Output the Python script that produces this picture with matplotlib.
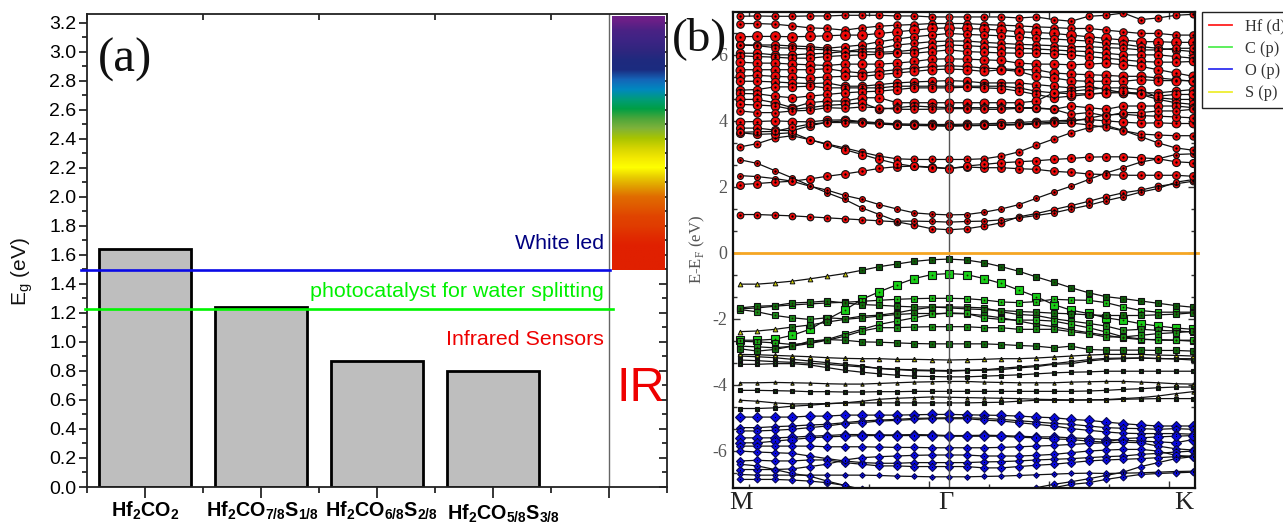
import matplotlib
matplotlib.use('Agg')
import matplotlib.pyplot as plt
from matplotlib.lines import Line2D
from matplotlib.transforms import ScaledTranslation
from matplotlib.colors import to_rgb
import numpy as np

plt.rcParams['font.family'] = ['Liberation Sans', 'DejaVu Sans']
plt.rcParams['mathtext.fontset'] = 'custom'
plt.rcParams['mathtext.rm'] = 'Liberation Serif'
plt.rcParams['mathtext.bf'] = 'Liberation Sans:bold'
plt.rcParams['mathtext.sf'] = 'Liberation Sans'

# ---------- panel (a) data ----------
compounds = [r'$\mathbf{Hf_{2}CO_{2}}$', r'$\mathbf{Hf_{2}CO_{7/8}S_{1/8}}$',
             r'$\mathbf{Hf_{2}CO_{6/8}S_{2/8}}$', r'$\mathbf{Hf_{2}CO_{5/8}S_{3/8}}$']
band_gaps = [1.64, 1.24, 0.87, 0.80]
white_led_level = 1.495
water_splitting_level = 1.23
spectrum_colors = ['#6b1f87', '#4a2284', '#3d2484', '#30267f', '#1f2a7e', '#1b2c80', '#1565b8',
                   '#0088c0', '#009c7c', '#009f45', '#4ca63a', '#7fb23a', '#a8c400', '#d4d400',
                   '#f2e800', '#ffff00', '#e8cc00', '#e09c00', '#e06c00', '#e05a00', '#e04400',
                   '#e03c00', '#e02c00', '#e02000', '#e02000', '#e02000']
spectrum_range = [1.495, 3.245]

# ---------- panel (b) data: energies (eV) at the 27 k-points from M (0) via Gamma (12) to K (26) ----------
k_labels = ['M', 'Γ', 'K']
hf_bands = [
 [1.16,1.16,1.14,1.12,1.09,1.06,1.03,1.0,.97,.94,.84,.73,.70,.73,.81,.91,1.09,1.19,1.31,1.43,1.56,1.70,1.82,1.90,2.02,2.09,2.17],
 [2.82,2.71,2.49,2.27,2.04,1.82,1.62,1.36,1.16,.96,.96,.95,.93,.95,.96,1.0,1.06,1.13,1.21,1.33,1.44,1.58,1.70,1.84,1.95,2.14,2.22],
 [2.34,2.31,2.25,2.17,2.02,1.90,1.74,1.62,1.46,1.33,1.21,1.17,1.15,1.16,1.23,1.33,1.46,1.65,1.84,2.02,2.22,2.42,2.58,2.75,2.85,2.98,3.0],
 [2.07,2.10,2.14,2.17,2.24,2.32,2.39,2.47,2.56,2.61,2.63,2.6,2.56,2.6,2.58,2.58,2.55,2.53,2.47,2.44,2.39,2.37,2.35,2.35,2.35,2.35,2.32],
 [3.21,3.31,3.48,3.55,3.43,3.30,3.18,3.05,2.93,2.85,2.83,2.83,2.83,2.83,2.85,2.93,3.06,3.26,3.45,3.64,3.79,3.86,3.71,3.52,3.33,3.18,3.11],
 [3.64,3.59,3.61,3.64,3.43,3.28,3.13,2.98,2.83,2.70,2.62,2.58,2.55,2.63,2.68,2.73,2.76,2.79,2.83,2.86,2.90,2.91,2.91,2.88,2.85,2.76,2.73],
 [3.97,3.98,4.00,3.98,3.97,4.02,4.03,3.98,3.94,3.91,3.90,3.89,3.89,3.90,3.91,3.93,3.95,3.98,4.00,4.02,4.04,4.00,3.96,3.93,3.94,3.92,3.92],
 [3.78,3.78,3.72,3.7,3.85,3.96,4.0,3.96,3.92,3.88,3.87,3.86,3.85,3.86,3.87,3.88,3.9,3.93,3.96,3.98,4.08,4.18,4.2,4.16,4.14,4.12,4.09],
 [3.65,3.67,3.68,3.8,3.9,3.95,3.95,3.93,3.9,3.88,3.86,3.85,3.84,3.85,3.86,3.87,3.88,3.9,3.92,3.93,3.88,3.8,3.7,3.6,3.57,3.55,3.55],
 [7.17,7.18,7.17,7.17,7.18,7.18,7.2,7.2,7.2,7.18,7.18,7.15,7.15,7.15,7.15,7.15,7.12,7.15,7.07,7.02,7.17,7.2,7.27,7.07,7.12,7.2,7.23],
 [6.95,6.95,6.93,6.88,6.82,6.8,6.75,6.82,6.87,6.9,6.92,6.95,6.95,6.95,6.92,6.9,6.88,6.85,6.83,6.8,6.8,6.75,6.7,6.65,6.65,6.6,6.6],
 [6.55,6.56,6.56,6.55,6.56,6.58,6.6,6.6,6.65,6.7,6.75,6.8,6.82,6.8,6.78,6.75,6.7,6.68,6.65,6.6,6.55,6.5,6.45,6.4,6.4,6.38,6.38],
 [6.3,6.3,6.3,6.27,6.25,6.2,6.25,6.3,6.4,6.48,6.55,6.6,6.65,6.62,6.6,6.58,6.55,6.5,6.48,6.45,6.42,6.35,6.32,6.25,6.2,6.15,6.1],
 [6.3,6.28,6.22,6.2,6.18,6.15,6.1,6.17,6.2,6.3,6.35,6.4,6.42,6.42,6.38,6.35,6.32,6.3,6.28,6.25,6.25,6.22,6.2,6.15,6.15,6.2,6.2],
 [6.05,6.05,6.0,6.0,6.03,6.05,6.1,6.1,6.08,6.1,6.15,6.25,6.3,6.28,6.25,6.22,6.2,6.18,6.15,6.12,6.1,6.05,6.0,6.0,6.0,5.95,5.9],
 [5.97,5.95,5.93,5.9,5.9,5.95,5.98,6.0,6.02,6.05,6.05,6.1,6.15,6.1,6.08,6.06,6.05,6.05,6.03,6.0,5.95,5.9,5.85,5.8,5.78,5.78,5.8],
 [5.78,5.75,5.75,5.72,5.7,5.68,5.72,5.72,5.72,5.75,5.8,5.87,5.88,5.87,5.85,5.83,5.75,5.72,5.72,5.7,5.72,5.75,5.7,5.65,5.55,5.45,5.35],
 [5.55,5.55,5.55,5.55,5.55,5.58,5.5,5.45,5.5,5.55,5.6,5.65,5.67,5.65,5.6,5.58,5.55,5.55,5.45,5.42,5.4,5.38,5.35,5.35,5.3,5.25,5.2],
 [5.35,5.38,5.35,5.33,5.3,5.33,5.35,5.35,5.4,5.45,5.5,5.55,5.57,5.55,5.5,5.55,5.5,5.35,5.3,5.22,5.2,5.2,5.2,5.25,5.22,5.22,5.22],
 [5.2,5.2,5.18,5.15,5.13,5.15,5.05,5.05,5.1,5.15,5.18,5.2,5.22,5.2,5.15,5.15,5.15,5.1,5.05,5.0,5.05,4.95,4.85,4.85,4.85,4.9,4.95],
 [4.93,4.95,5.03,5.03,5.05,5.0,5.0,5.0,5.0,5.05,5.05,5.05,5.05,5.05,5.05,5.05,5.0,4.9,4.85,4.9,4.95,5.0,5.0,4.95,4.7,4.65,4.65],
 [4.83,4.82,4.75,4.7,4.75,4.8,4.85,4.88,4.9,4.95,5.0,5.0,5.0,5.02,5.0,4.98,4.9,4.8,4.7,4.75,4.8,4.85,4.85,4.8,4.65,4.55,4.5],
 [4.65,4.65,4.55,4.4,4.55,4.6,4.6,4.7,4.7,4.55,4.55,4.55,4.55,4.55,4.55,4.55,4.55,4.6,4.85,4.82,4.82,4.85,4.9,4.8,4.75,4.8,4.8],
 [4.5,4.48,4.45,4.35,4.4,4.47,4.5,4.55,4.35,4.4,4.45,4.42,4.4,4.4,4.4,4.4,4.4,4.4,4.35,4.45,4.4,4.35,4.45,4.45,4.45,4.45,4.4],
 [4.3,4.25,4.25,4.3,4.32,4.4,4.38,4.42,4.4,4.35,4.35,4.35,4.37,4.37,4.35,4.35,4.38,4.38,4.35,4.2,4.25,4.15,4.25,4.25,4.3,4.3,4.35],
]
c_bands = [
 [-.95,-.95,-.91,-.86,-.79,-.71,-.63,-.53,-.42,-.34,-.26,-.21,-.19,-.22,-.30,-.42,-.56,-.73,-.89,-1.06,-1.21,-1.33,-1.39,-1.46,-1.53,-1.6,-1.65],
 [-2.65,-2.65,-2.62,-2.5,-2.32,-2.02,-1.74,-1.41,-1.18,-.97,-.78,-.66,-.63,-.66,-.78,-.93,-1.13,-1.33,-1.57,-1.74,-1.84,-1.97,-2.05,-2.15,-2.22,-2.28,-2.32],
 [-1.7,-1.67,-1.62,-1.58,-1.55,-1.52,-1.5,-1.47,-1.44,-1.41,-1.39,-1.38,-1.38,-1.39,-1.43,-1.49,-1.51,-1.48,-1.41,-1.43,-1.44,-1.51,-1.64,-1.75,-1.8,-1.8,-1.8],
 [-1.72,-1.79,-1.9,-1.97,-2.02,-1.97,-2.0,-1.92,-1.89,-1.82,-1.72,-1.65,-1.64,-1.65,-1.67,-1.79,-1.87,-1.9,-2.0,-2.07,-2.14,-2.22,-2.35,-2.32,-2.35,-2.37,-2.4],
 [-1.67,-1.62,-1.6,-1.52,-1.5,-1.46,-1.52,-1.57,-1.59,-1.62,-1.64,-1.64,-1.67,-1.7,-1.72,-1.75,-1.78,-1.8,-1.83,-1.85,-1.88,-1.9,-1.9,-1.9,-1.88,-1.86,-1.82],
 [-2.39,-2.37,-2.32,-2.25,-2.19,-2.1,-2.02,-1.97,-1.92,-1.87,-1.84,-1.84,-1.84,-1.85,-1.9,-1.97,-2.07,-2.17,-2.24,-2.34,-2.42,-2.5,-2.58,-2.63,-2.63,-2.65,-2.68],
 [-2.68,-2.7,-2.73,-2.78,-2.73,-2.63,-2.47,-2.32,-2.17,-2.07,-1.97,-1.87,-1.82,-1.84,-1.97,-2.02,-2.04,-2.04,-2.07,-2.17,-2.27,-2.4,-2.55,-2.61,-2.65,-2.65,-2.65],
 [-2.83,-2.85,-2.88,-2.83,-2.75,-2.65,-2.53,-2.37,-2.27,-2.27,-2.25,-2.24,-2.24,-2.24,-2.27,-2.27,-2.32,-2.32,-2.32,-2.39,-2.45,-2.55,-2.55,-2.5,-2.45,-2.42,-2.38],
 [-2.91,-2.98,-2.93,-2.83,-2.68,-2.63,-2.65,-2.7,-2.71,-2.73,-2.75,-2.76,-2.76,-2.76,-2.76,-2.78,-2.81,-2.83,-2.88,-2.83,-2.93,-2.95,-2.95,-2.95,-2.96,-2.96,-2.98],
]
s_bands = [
 [-3.08,-3.09,-3.11,-3.13,-3.15,-3.18,-3.2,-3.21,-3.21,-3.23,-3.23,-3.24,-3.25,-3.24,-3.23,-3.21,-3.21,-3.19,-3.16,-3.13,-3.1,-3.08,-3.08,-3.08,-3.1,-3.11,-3.13],
 [-3.94,-3.94,-3.93,-3.94,-3.95,-3.97,-3.98,-3.98,-3.96,-3.94,-3.92,-3.91,-3.9,-3.9,-3.92,-3.93,-3.94,-3.94,-3.94,-3.92,-3.91,-3.9,-3.9,-3.92,-3.94,-3.97,-3.98],
 [-4.47,-4.5,-4.55,-4.58,-4.58,-4.57,-4.55,-4.5,-4.44,-4.41,-4.39,-4.37,-4.38,-4.39,-4.4,-4.41,-4.42,-4.44,-4.45,-4.46,-4.46,-4.45,-4.42,-4.39,-4.34,-4.27,-4.21],
]
mixed_bands = [
 [-3.13,-3.15,-3.18,-3.23,-3.28,-3.33,-3.38,-3.43,-3.51,-3.54,-3.57,-3.58,-3.59,-3.57,-3.56,-3.54,-3.49,-3.45,-3.38,-3.36,-3.28,-3.23,-3.21,-3.19,-3.21,-3.21,-3.21],
 [-3.38,-3.38,-3.36,-3.36,-3.4,-3.48,-3.56,-3.62,-3.67,-3.71,-3.74,-3.75,-3.76,-3.76,-3.74,-3.72,-3.7,-3.67,-3.64,-3.62,-3.61,-3.59,-3.59,-3.59,-3.59,-3.59,-3.59],
 [-3.25,-3.27,-3.3,-3.32,-3.35,-3.38,-3.42,-3.46,-3.5,-3.53,-3.55,-3.56,-3.57,-3.56,-3.55,-3.5,-3.46,-3.42,-3.36,-3.3,-3.24,-3.2,-3.19,-3.19,-3.2,-3.22,-3.25],
 [-4.17,-4.17,-4.18,-4.19,-4.21,-4.21,-4.22,-4.22,-4.21,-4.21,-4.2,-4.2,-4.2,-4.2,-4.2,-4.2,-4.2,-4.2,-4.2,-4.2,-4.19,-4.17,-4.14,-4.12,-4.09,-4.07,-4.07],
 [-4.72,-4.72,-4.7,-4.65,-4.62,-4.58,-4.55,-4.55,-4.55,-4.55,-4.55,-4.55,-4.55,-4.55,-4.54,-4.53,-4.5,-4.47,-4.47,-4.47,-4.46,-4.46,-4.44,-4.43,-4.42,-4.42,-4.42],
]
o_bands = [
 [-4.98,-4.98,-4.98,-4.98,-4.95,-4.95,-4.92,-4.92,-4.92,-4.92,-4.91,-4.9,-4.9,-4.91,-4.92,-4.93,-4.95,-4.98,-5.0,-5.05,-5.08,-5.13,-5.18,-5.22,-5.25,-5.25,-5.25],
 [-5.3,-5.3,-5.27,-5.25,-5.22,-5.2,-5.15,-5.1,-5.07,-5.05,-5.02,-5.01,-5.0,-5.0,-5.02,-5.05,-5.09,-5.13,-5.17,-5.2,-5.25,-5.3,-5.32,-5.33,-5.35,-5.33,-5.35],
 [-5.4,-5.4,-5.38,-5.35,-5.3,-5.25,-5.18,-5.15,-5.1,-5.08,-5.05,-5.03,-5.03,-5.03,-5.07,-5.1,-5.15,-5.2,-5.25,-5.33,-5.38,-5.43,-5.47,-5.48,-5.48,-5.48,-5.5],
 [-5.61,-5.61,-5.61,-5.59,-5.56,-5.54,-5.51,-5.51,-5.52,-5.52,-5.51,-5.52,-5.54,-5.54,-5.53,-5.54,-5.56,-5.58,-5.58,-5.61,-5.63,-5.66,-5.68,-5.71,-5.73,-5.76,-5.66],
 [-5.76,-5.76,-5.71,-5.66,-5.61,-5.58,-5.56,-5.54,-5.54,-5.54,-5.54,-5.54,-5.56,-5.56,-5.56,-5.56,-5.59,-5.61,-5.64,-5.66,-5.71,-5.74,-5.63,-5.61,-5.58,-5.56,-5.54],
 [-5.86,-5.86,-5.86,-5.86,-5.86,-5.88,-5.88,-5.88,-5.89,-5.9,-5.9,-5.91,-5.91,-5.91,-5.91,-5.9,-5.88,-5.86,-5.84,-5.81,-5.78,-5.76,-5.74,-5.76,-5.86,-5.94,-5.98],
 [-6.01,-6.04,-6.06,-6.08,-6.16,-6.24,-6.31,-6.36,-6.38,-6.38,-6.36,-6.36,-6.36,-6.36,-6.34,-6.33,-6.31,-6.28,-6.26,-6.24,-6.21,-6.18,-6.16,-6.11,-6.08,-6.04,-6.01],
 [-6.31,-6.29,-6.31,-6.31,-6.28,-6.28,-6.36,-6.41,-6.46,-6.46,-6.48,-6.48,-6.48,-6.48,-6.52,-6.52,-6.48,-6.44,-6.41,-6.36,-6.31,-6.28,-6.26,-6.24,-6.21,-6.18,-6.16],
 [-6.57,-6.57,-6.57,-6.55,-6.48,-6.41,-6.28,-6.21,-6.18,-6.16,-6.14,-6.13,-6.13,-6.13,-6.16,-6.16,-6.16,-6.14,-6.11,-6.06,-6.01,-5.98,-5.96,-5.96,-6.01,-6.14,-6.18],
 [-6.87,-6.87,-6.87,-6.89,-6.92,-6.97,-7.05,-7.17,-7.32,-7.47,-7.58,-7.63,-7.63,-7.58,-7.47,-7.37,-7.22,-7.12,-7.02,-6.94,-6.85,-6.75,-6.65,-6.48,-6.36,-6.24,-6.18],
 [-6.72,-6.74,-6.74,-6.74,-6.74,-6.74,-6.74,-6.74,-6.75,-6.77,-6.78,-6.79,-6.79,-6.79,-6.78,-6.77,-6.75,-6.73,-6.71,-6.69,-6.68,-6.69,-6.68,-6.67,-6.65,-6.63,-6.62],
 [-6.41,-6.46,-6.57,-6.69,-6.77,-6.92,-7.05,-7.22,-7.37,-7.53,-7.68,-7.73,-7.78,-7.73,-7.63,-7.47,-7.32,-7.22,-7.12,-7.02,-6.97,-6.87,-6.79,-6.72,-6.69,-6.67,-6.65],
]
legend_labels = ['Hf (d)', 'C (p)', 'O (p)', 'S (p)']

# ---------- styling ----------
W, H = 1283, 531
fig = plt.figure(figsize=(W / 100, H / 100), dpi=100, facecolor='white')

def px_axes(left, top, right, bottom):
    return fig.add_axes([left / W, 1 - bottom / H, (right - left) / W, (bottom - top) / H])

# ---------- panel (a) ----------
ax = px_axes(87, 14, 667, 487)
positions = np.arange(1, len(band_gaps) + 1)
ax.bar(positions, band_gaps, width=0.79, color='#bebebe', edgecolor='black', linewidth=2.0, zorder=2)
ax.imshow([[to_rgb(c)] for c in spectrum_colors], aspect='auto', interpolation='bilinear',
          extent=[5.03, 5.483, spectrum_range[0], spectrum_range[1]], zorder=3)
ax.axvline(5, color='#666666', lw=1.0, zorder=1.5)
ax.plot([0.448, 5.009], [white_led_level] * 2, color='#0a0ae6', lw=1.9, clip_on=False, zorder=4)
ax.plot([0.483, 5.035], [water_splitting_level] * 2, color='#00f500', lw=1.9, clip_on=False, zorder=4)
ax.set_xlim(0.5, 5.5)
ax.set_ylim(0, 3.26)
ax.set_xticks(list(positions) + [5], compounds + [''], fontsize=14.2)
ax.set_xticks(np.arange(0.5, 6, 1), minor=True)
ax.set_yticks(np.arange(0, 3.21, 0.2), [f'{v:.1f}' for v in np.arange(0, 3.21, 0.2)], fontsize=14)
ax.set_yticks(np.arange(0.1, 3.21, 0.2), minor=True)
ax.tick_params(axis='x', which='major', direction='out', length=8, width=1.1, pad=1.5, top=False)
ax.tick_params(axis='x', which='minor', direction='out', length=4.5, width=1.1, top=True)
ax.tick_params(axis='y', which='major', direction='out', length=6, width=1.1, pad=1.5, right=True)
ax.tick_params(axis='y', which='minor', direction='out', length=3.5, width=1.1, right=True)
for t in ax.xaxis.get_major_ticks():
    t.tick2line.set_visible(False)
for t in ax.xaxis.get_minor_ticks():
    t.tick2line.set_markersize(4.5)
    t.tick2line.set_marker(3)
for t in ax.yaxis.get_major_ticks():
    t.tick2line.set_marker(0)
    t.tick2line.set_markersize(6)
for t in ax.yaxis.get_minor_ticks():
    t.tick2line.set_marker(0)
    t.tick2line.set_markersize(3.5)
for sp in ax.spines.values():
    sp.set_linewidth(1.3)
    sp.set_color('#222222')
labels = ax.get_xticklabels()
for lab, (dx, dy) in zip(labels, [(0, 0), (1, 0), (4, 0), (10, -3)]):
    lab.set_transform(lab.get_transform() + ScaledTranslation(dx / 100, dy / 100, fig.dpi_scale_trans))
fig.text(22 / W, 1 - 272 / H, r'E$_{\mathsf{g}}$ (eV)', rotation=90, fontsize=15, ha='center', va='center', color='#111111')
ax.text(0.5 + 11 / 116, 3.26 - 46 / 145.1, '(a)', family='Liberation Serif', fontsize=35, va='center', ha='left', color='#111111')
ax.text(5.0 - 5 / 116, (487 - 243) / 145.1, 'White led', color='#000080', fontsize=15.4, ha='right', va='center')
ax.text(5.0 - 5 / 116, (487 - 291) / 145.1, 'photocatalyst for water splitting', color='#00f000', fontsize=15.4, ha='right', va='center')
ax.text(5.0 - 5 / 116, (487 - 339) / 145.1, 'Infrared Sensors', color='#ee0000', fontsize=15.4, ha='right', va='center')
ax.text(5.275, (487 - 388) / 145.1, 'IR', color='#ee0000', fontsize=35, ha='center', va='center', zorder=5)

# ---------- panel (b) ----------
bx = px_axes(733, 12, 1195, 488)
k_points = np.arange(len(hf_bands[0]))

def draw(bands, marker, face, sizes, dot='black', dotsize=1.4, edge='#111111'):
    for band, ms in zip(bands, sizes):
        bx.plot(k_points, band, color='#111111', lw=0.9, marker=marker, ms=ms, mfc=face, mec=edge, mew=0.8, zorder=2)
        bx.plot(k_points, band, ls='none', marker='o', ms=dotsize, mfc=dot, mec=dot, mew=0, zorder=2.1)

hf_sizes = [4.8, 4.2, 4.2, 5.6, 5.0, 5.8, 6.2, 5.8, 5.2, 5.0, 5.4, 7.0, 5.8, 5.4, 6.0, 6.0, 6.4, 6.4, 6.4, 6.0, 6.0, 6.0, 6.4, 6.0, 5.4]
c_faces = ['#0b5c0b', '#18d018', '#18c018', '#1a8a1a', '#0f6f0f', '#127012', '#18b018', '#149014', '#0f6a0f']
c_sizes = [3.8, 5.2, 4.4, 4.2, 4.2, 4.2, 4.4, 4.4, 3.8]
triangle_counts = [7, 0, 0, 0, 0, 3, 0, 0, 0]
draw(o_bands, 'D', '#0808e0', [4.6, 4.3, 4.3, 4.8, 4.6, 4.3, 4.3, 4.2, 4.2, 3.5, 2.9, 3.5], dotsize=0.7, edge='#0a0a50')
draw(mixed_bands, 's', '#101510', [3.0, 3.0, 2.8, 2.8, 2.2], dot='#106010', dotsize=0.8)
draw(s_bands, '^', '#c8c800', [3.2, 2.4, 2.4], dotsize=0.7)
for band, face, ms, n_tri in zip(c_bands, c_faces, c_sizes, triangle_counts):
    bx.plot(k_points, band, color='#111111', lw=0.9, zorder=2)
    bx.plot(k_points[n_tri:], band[n_tri:], ls='none', marker='s', ms=ms, mfc=face, mec='#111111', mew=0.8, zorder=2)
    bx.plot(k_points[n_tri:], band[n_tri:], ls='none', marker='o', ms=1.3, mfc='#222200', mew=0, zorder=2.1)
    if n_tri:
        bx.plot(k_points[:n_tri], band[:n_tri], ls='none', marker='^', ms=3.4, mfc='#c8c800', mec='#111111', mew=0.7, zorder=2.2)
draw(hf_bands, 'o', '#f00808', hf_sizes, dotsize=1.7)
bx.axvline(12, color='#555555', lw=1.0, zorder=3)
bx.plot([-0.4, 26.3], [0, 0], color='#f5a623', lw=2.0, clip_on=False, zorder=5)
bx.set_xlim(-0.4, 26.11)
bx.set_ylim(-7.13, 7.3)
bx.set_xticks([3.98, 10.86, 17.73, 24.61], [])
bx.set_xticks([0.53, 7.42, 14.3, 21.17], minor=True)
bx.set_yticks(np.arange(-6, 7, 2), ['-6', '-4', '-2', '0', '2', '4', '6'], family='Liberation Serif', fontsize=13, color='#555555')
bx.set_yticks(np.arange(-20, 21, 2) / 3, minor=True)
bx.tick_params(which='major', direction='in', length=5, width=1.0, color='#333333', top=True, right=True, pad=4)
bx.tick_params(which='minor', direction='in', length=3, width=1.0, color='#333333', top=True, right=True)
bx.set_zorder(3)
for sp in bx.spines.values():
    sp.set_linewidth(1.6)
    sp.set_color('#111111')
    sp.set_zorder(6)
fig.text(697 / W, 1 - 250 / H, r'E-E$_{\mathrm{F}}$ (eV)', family='Liberation Serif', rotation=90, fontsize=12, ha='center', va='center', color='#555555')
fig.text(672 / W, 1 - 39 / H, '(b)', family='Liberation Serif', fontsize=34, ha='left', va='center', color='#111111', zorder=10)
for lab, px in zip(k_labels, [741, 945.7, 1184]):
    fig.text(px / W, 1 - 503 / H, lab, family='Liberation Serif', fontsize=19, ha='center', va='center', color='#222222')

handles = [Line2D([], [], color=c, lw=1.3) for c in ['#ff2020', '#50ee50', '#3030f0', '#eeee30']]
leg = fig.legend(handles, legend_labels, loc='upper left', bbox_to_anchor=(1202 / W, 1 - 12 / H), bbox_transform=fig.transFigure,
                 prop={'family': 'Liberation Serif', 'size': 11.8}, frameon=True, fancybox=False, edgecolor='#222222',
                 framealpha=1, borderpad=0.4, labelspacing=0.38, handlelength=1.45, handletextpad=0.75, borderaxespad=0)
leg.get_frame().set_linewidth(1.0)
for txt in leg.get_texts():
    txt.set_color('#333333')

fig.savefig('out.png', dpi=100)
